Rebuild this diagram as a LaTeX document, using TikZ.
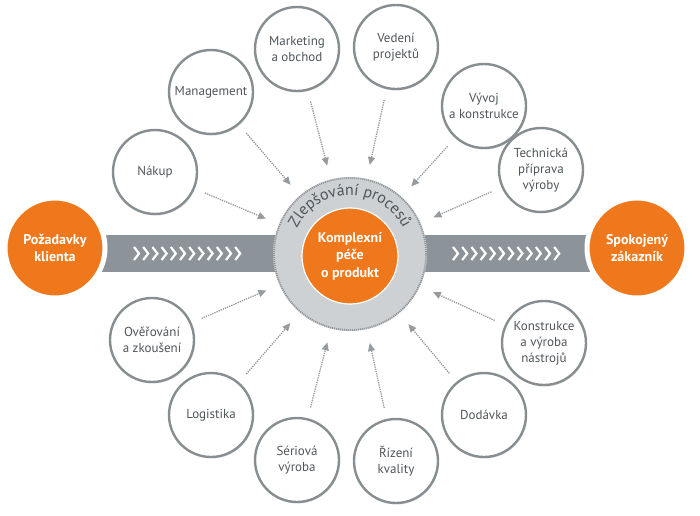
\documentclass[tikz,border=0pt]{standalone}
\usepackage{fontspec}
\setmainfont{PT Sans}
\usetikzlibrary{arrows.meta,decorations.text,shadows}
\definecolor{orng}{RGB}{240,120,28}
\definecolor{band}{RGB}{140,148,153}
\definecolor{ringfill}{RGB}{206,209,212}
\definecolor{ringedge}{RGB}{140,146,150}
\definecolor{satedge}{RGB}{135,142,146}
\definecolor{txt}{RGB}{80,86,90}
\definecolor{arrgray}{RGB}{150,155,160}
\begin{document}
\begin{tikzpicture}[x=1pt,y=1pt,
 sat/.style={circle, draw=satedge, line width=2.4pt, fill=white, minimum size=84pt, inner sep=0pt, align=center, text=txt, font=\fontsize{13}{16}\selectfont, drop shadow={opacity=0.18, shadow xshift=1pt, shadow yshift=-1.5pt}},
 endnode/.style={circle, fill=orng, draw=white, line width=5pt, minimum size=100pt, inner sep=0pt, align=center, text=white, font=\bfseries\fontsize{14}{17}\selectfont, drop shadow={opacity=0.25, shadow xshift=1pt, shadow yshift=-1.5pt}},
 corenode/.style={circle, fill=orng, draw=white, line width=1.2pt, minimum size=96pt, inner sep=0pt, align=center, text=white, font=\bfseries\fontsize{14}{17.5}\selectfont},
 procnode/.style={circle, fill=ringfill, minimum size=154pt, inner sep=0pt},
 arr/.style={arrgray, line width=1.3pt, dash pattern=on 1.3pt off 1pt, -{Triangle[length=8pt,width=7pt]}, shorten <=11pt, shorten >=14pt},
 chev/.style={white, line width=2.2pt}
]
\useasboundingbox (0,0) rectangle (700,-515);
% band
\fill[band] (60,-235) rectangle (630,-272);
\foreach \i in {0,...,11}{
  \draw[chev] ({134+\i*9.2},-247) -- ++(5,-6.5) -- ++(-5,-6.5);
  \draw[chev] ({453+\i*9.2},-247) -- ++(5,-6.5) -- ++(-5,-6.5);
}
% process ring
\node[procnode] (proc) at (350,-254) {};
\draw[ringedge, line width=1.8pt, dash pattern=on 1pt off 1pt] (proc.center) circle[radius=76];
\path[decorate, decoration={text along path, text align=center,
  text={|\fontsize{16}{16}\selectfont\color{txt}|Zlepšování procesů}}]
  ([shift={(160:59)}]proc.center) arc[start angle=160, end angle=20, radius=59];
\node[corenode] (core) at (350,-256) {Komplexní\\péče\\o produkt};
% end nodes
\node[endnode] (req) at (55,-248) {Požadavky\\klienta};
\node[endnode] (cust) at (637,-248) {Spokojený\\zákazník};
% satellites
\node[sat] (nakup) at (155,-172) {Nákup};
\node[sat] (mgmt) at (211,-92) {Management};
\node[sat] (mkt) at (297,-49) {Marketing\\a obchod};
\node[sat] (ved) at (396,-47) {Vedení\\projektů};
\node[sat] (vyv) at (484,-106) {Vývoj\\a konstrukce};
\node[sat] (tech) at (541,-170) {Technická\\příprava\\výroby};
\node[sat] (over) at (152,-340) {Ověřování\\a zkoušení};
\node[sat] (logi) at (211,-415) {Logistika};
\node[sat] (ser) at (297,-460) {Sériová\\výroba};
\node[sat] (riz) at (396,-461) {Řízení\\kvality};
\node[sat] (dod) at (484,-415) {Dodávka};
\node[sat] (kon) at (544,-343) {Konstrukce\\a výroba\\nástrojů};
% arrows
\foreach \s in {nakup,mgmt,mkt,ved,vyv,tech,over,logi,ser,riz,dod,kon}
  \draw[arr] (\s) -- (proc);
\end{tikzpicture}
\end{document}
